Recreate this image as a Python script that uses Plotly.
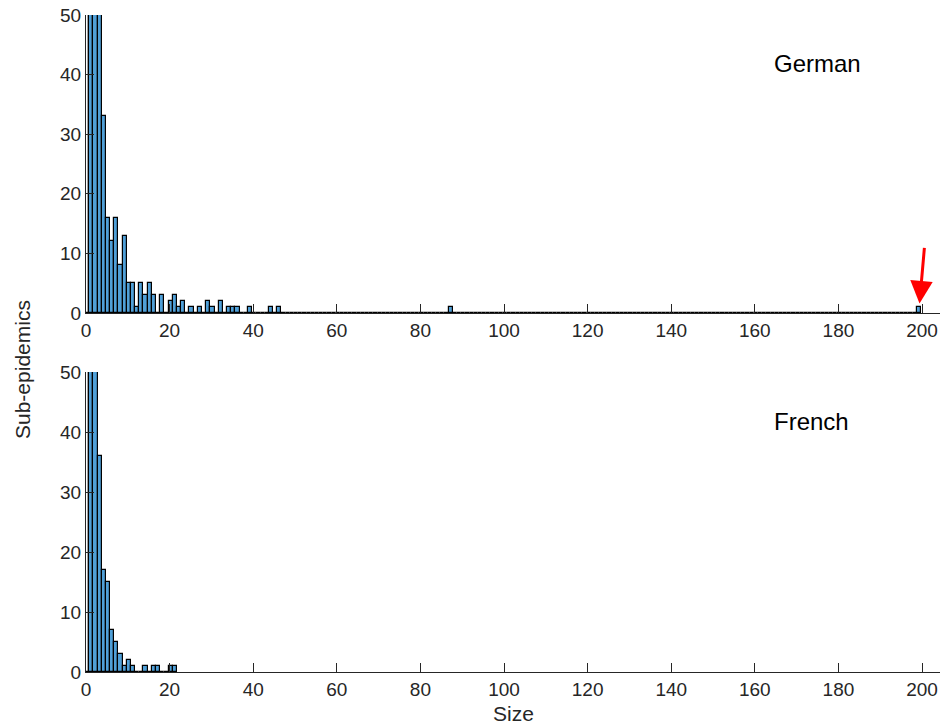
import plotly.graph_objects as go

# ---- data ----
german_sizes = [0, 1, 2, 3, 4, 5, 6, 7, 8, 9, 10, 11, 12, 13, 14, 15, 16, 18, 20, 21,
                22, 23, 25, 27, 29, 30, 32, 34, 35, 36, 39, 44, 46, 87, 199]
german_counts = [50, 50, 50, 50, 33, 16, 12, 16, 8, 13, 5, 5, 1, 5, 3, 5, 3, 3, 2, 3,
                 1, 2, 1, 1, 2, 1, 2, 1, 1, 1, 1, 1, 1, 1, 1]
german_max = 199

french_sizes = [0, 1, 2, 3, 4, 5, 6, 7, 8, 9, 10, 11, 14, 16, 17, 20, 21]
french_counts = [50, 50, 50, 36, 17, 15, 7, 5, 3, 1, 2, 1, 1, 1, 1, 1, 1]
french_max = 21

x_ticks = [0, 20, 40, 60, 80, 100, 120, 140, 160, 180, 200]
y_ticks = [0, 10, 20, 30, 40, 50]

W, H = 943, 725
ML, MR, MT, MB = 86, 3, 15, 53
PW, PH = W - ML - MR, H - MT - MB
XMAX = 204.3


def full(sizes, counts, nmax):
    d = dict(zip(sizes, counts))
    xs = list(range(0, nmax + 1))
    return xs, [d.get(k, 0) for k in xs]


def px_to_x(px):
    return (px - ML) / PW * XMAX


def px_to_paper_x(px):
    return (px - ML) / PW


def px_to_paper_y(py):
    return (H - MB - py) / PH


BLUE = "rgb(80,160,216)"
INK = "#262626"
FONT = "Liberation Sans, Arial"

fig = go.Figure()
for sizes, counts, nmax, ax in [(german_sizes, german_counts, german_max, ""),
                                (french_sizes, french_counts, french_max, "2")]:
    xs, ys = full(sizes, counts, nmax)
    colors = ["white" if k == 0 else BLUE for k in xs]
    fig.add_trace(go.Bar(
        x=xs, y=ys, width=1, offset=-0.25,
        marker=dict(color=colors, line=dict(color="black", width=1.2)),
        xaxis="x" + ax, yaxis="y" + ax, showlegend=False, hoverinfo="skip",
    ))

axis_common = dict(
    showgrid=False, zeroline=False, showline=True, linecolor=INK, linewidth=1,
    ticks="inside", tickcolor=INK, tickwidth=1,
    tickfont=dict(family=FONT, size=19, color=INK),
)

top_lo = px_to_paper_y(313)
bot_hi = px_to_paper_y(372)

fig.update_layout(
    width=W, height=H,
    margin=dict(l=ML, r=MR, t=MT, b=MB),
    paper_bgcolor="white", plot_bgcolor="white",
    bargap=0,
    xaxis=dict(range=[0, XMAX], tickvals=x_ticks, ticklen=9, anchor="y", **axis_common),
    yaxis=dict(range=[0, 50], tickvals=y_ticks, ticklen=8, domain=[top_lo, 1.0], anchor="x", **axis_common),
    xaxis2=dict(range=[0, XMAX], tickvals=x_ticks, ticklen=9, anchor="y2", **axis_common),
    yaxis2=dict(range=[0, 50], tickvals=y_ticks, ticklen=8, domain=[0.0, bot_hi], anchor="x2", **axis_common),
    annotations=[
        dict(text="German", x=px_to_x(817), y=50 - (63 - 15) / 5.96, xref="x", yref="y",
             showarrow=False, xanchor="center", yanchor="middle",
             font=dict(family=FONT, size=24, color="black")),
        dict(text="French", x=px_to_x(811), y=50 - (421 - 372) / 6.0, xref="x2", yref="y2",
             showarrow=False, xanchor="center", yanchor="middle",
             font=dict(family=FONT, size=24, color="black")),
        dict(text="Sub-epidemics", x=px_to_paper_x(22), y=px_to_paper_y(370),
             xref="paper", yref="paper", showarrow=False, textangle=-90,
             xanchor="center", yanchor="middle",
             font=dict(family=FONT, size=21, color=INK)),
        dict(text="Size", x=px_to_paper_x(513), y=px_to_paper_y(713),
             xref="paper", yref="paper", showarrow=False,
             xanchor="center", yanchor="middle",
             font=dict(family=FONT, size=21, color=INK)),
        dict(text="", x=199.4, y=1.6, xref="x", yref="y", showarrow=True,
             ax=5, ay=-57, arrowhead=2, arrowsize=1.5, arrowwidth=3,
             arrowcolor="red", standoff=0),
    ],
)

fig.write_html("out.html")
